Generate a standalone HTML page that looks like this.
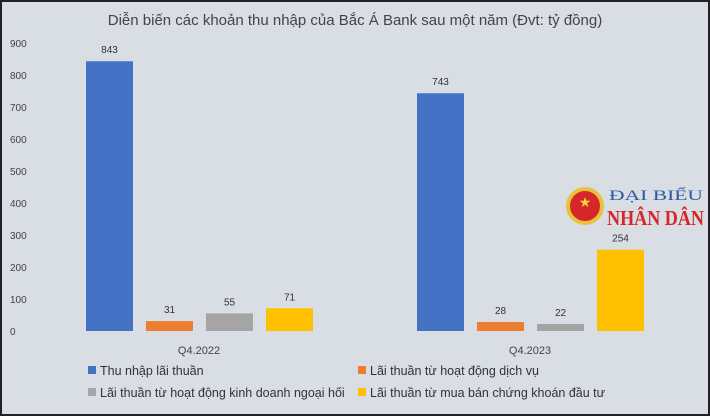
<!DOCTYPE html>
<html><head><meta charset="utf-8"><style>
body{margin:0;width:710px;height:416px;overflow:hidden;font-family:"Liberation Sans",sans-serif}
#c{position:absolute;left:0;top:0;width:706px;height:412px;background:#d9dde4;border:2px solid #222}
</style></head><body>
<div id="c">
<svg id="s" width="706" height="412" xmlns="http://www.w3.org/2000/svg"></svg>
</div>
<script>
const categories=["Q4.2022","Q4.2023"];
const seriesNames=["Thu nhập lãi thuần","Lãi thuần từ hoạt động dịch vụ","Lãi thuần từ hoạt động kinh doanh ngoại hối","Lãi thuần từ mua bán chứng khoán đầu tư"];
const thuNhapLai=[843,743];
const dichVu=[31,28];
const ngoaiHoi=[55,22];
const chungKhoan=[71,254];
const yTicks=[0,100,200,300,400,500,600,700,800,900];
const colors=["#4472c4","#ed7d31","#a5a5a5","#ffc000"];
const series=[thuNhapLai,dichVu,ngoaiHoi,chungKhoan];
const ns="http://www.w3.org/2000/svg";
const s=document.getElementById('s');
function y(v){return 329-v*0.32;}
function x(ci,si){return 84+ci*331+si*60;}
function el(t,a,txt){const e=document.createElementNS(ns,t);for(const k in a)e.setAttribute(k,a[k]);if(txt!=null)e.textContent=txt;s.appendChild(e);return e;}
let t=el('text',{x:353,y:23,'text-anchor':'middle','font-size':15,fill:'#444'},'Diễn biến các khoản thu nhập của Bắc Á Bank sau một năm (Đvt: tỷ đồng)');

yTicks.forEach(v=>{const e=el('text',{x:8,y:y(v)+4,'font-size':10,fill:'#444'},v);
});
categories.forEach((c,ci)=>{
 series.forEach((d,si)=>{const v=d[ci];
  const r=el('rect',{x:x(ci,si),y:y(v),width:47,height:v*0.32,fill:colors[si]});
  
  const l=el('text',{x:x(ci,si)+23.5,y:y(v)-8,'text-anchor':'middle','font-size':10,fill:'#333'},v);
  });
 const cl=el('text',{x:x(ci,0)+113,y:352,'text-anchor':'middle','font-size':11,fill:'#444'},c);
 
});
const lp=[[86,373],[356,373],[86,395],[356,395]];
seriesNames.forEach((n,i)=>{
 const r=el('rect',{x:lp[i][0],y:lp[i][1]-9,width:8,height:8,fill:colors[i]});
 
 const tx=el('text',{x:lp[i][0]+12,y:lp[i][1],'font-size':12.5,fill:'#333'},n);
 
});
const g=el('circle',{cx:583,cy:204,r:17,fill:'#d7262a',stroke:'#e8c23a','stroke-width':4});

const st=el('text',{x:583,y:205,'text-anchor':'middle','font-size':14,fill:'#f5d040'},'★');

const l1=el('text',{x:607,y:198,'font-size':15,'font-family':'Liberation Serif',fill:'#2b5aa0',textLength:94,lengthAdjust:'spacingAndGlyphs'},'ĐẠI BIỂU');

const l2=el('text',{x:605,y:223,'font-size':21,'font-weight':'bold','font-family':'Liberation Serif',fill:'#d7262a',textLength:97,lengthAdjust:'spacingAndGlyphs'},'NHÂN DÂN');

</script>
</body></html>
